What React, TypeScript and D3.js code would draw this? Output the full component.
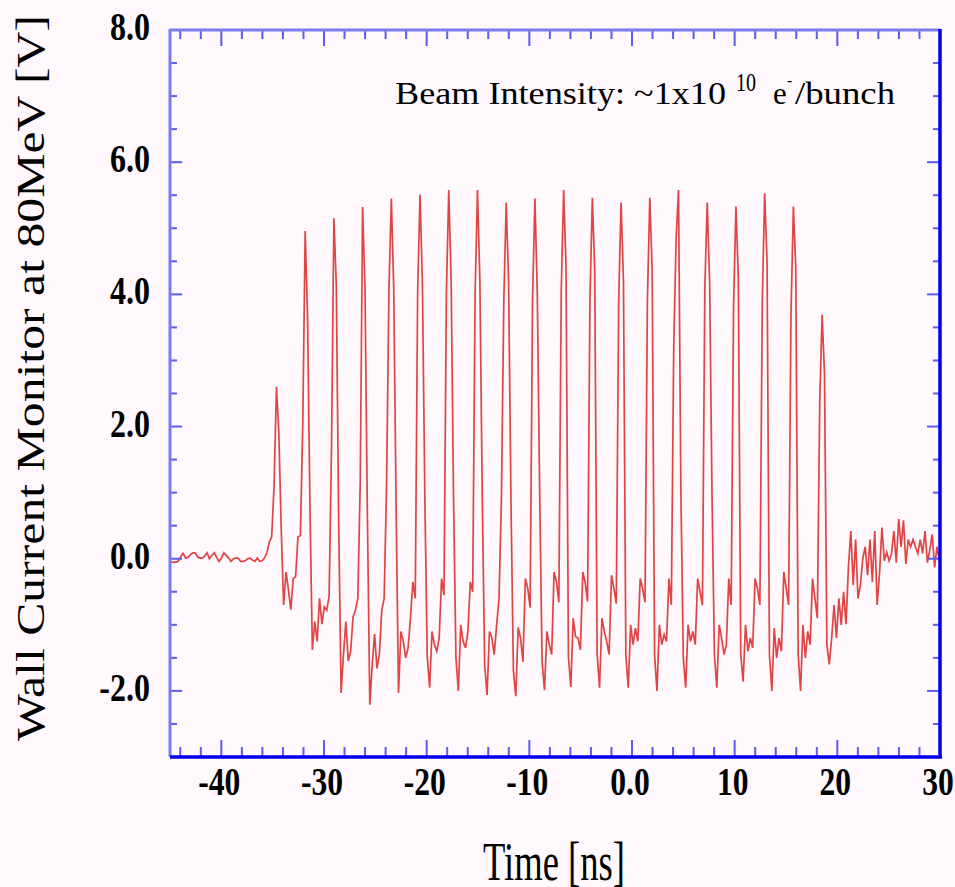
import React from 'react';
import * as d3 from 'd3';

// sampling grid of the digitised waveform (ns)
const T_START = -45.12;
const T_STEP = 0.2331;

// baseline before the beam arrives
const preBeam = [
  -0.05, -0.05, -0.05, -0.05, -0.04, 0.03, 0.08, 0.01, 0.02, 0.06,
  0.09, 0.09, 0.03, 0.01, 0.01, 0.04, 0.09, 0.0, 0.05, 0.09,
  0.02, -0.04, 0.01, 0.09, 0.05, 0.01, -0.04, 0.0, 0.01, 0.01,
  -0.04, -0.04, -0.03, 0.0, 0.01, -0.02, -0.04, 0.01, -0.04, -0.03,
  0.01, 0.09, 0.25, 0.33, 1.1,
];

// each bunch: 12 samples, starting at the peak
const bunch01 = [2.6, 1.9, 0.44, -0.7, -0.2, -0.47, -0.77, -0.3, -0.27, 0.33, 0.35, 2.05];
const bunch02 = [4.96, 3.65, 0.76, -1.38, -0.95, -1.25, -0.6, -0.99, -0.73, -0.78, -0.57, 1.67];
const bunch03 = [5.15, 4.15, 0.58, -2.03, -1.45, -0.95, -1.55, -1.4, -0.88, -0.78, -0.6, 1.15];
const bunch04 = [5.32, 4.07, 0.66, -2.21, -1.61, -1.14, -1.66, -1.45, -0.78, -0.6, 1.1, 4.07];
const bunch05 = [5.45, 4.1, 0.78, -2.03, -1.1, -1.25, -1.5, -1.35, -0.9, -0.35, -0.6, 4.05];
const bunch06 = [5.51, 4.15, 0.94, -1.48, -1.95, -1.1, -1.3, -1.4, -1.2, -0.3, -0.55, 4.0];
const bunch07 = [5.58, 4.2, 0.9, -1.5, -2.0, -1.0, -1.25, -1.35, -1.1, -0.35, -0.5, 4.0];
const bunch08 = [5.58, 4.2, 0.95, -1.6, -2.06, -1.1, -1.2, -1.45, -1.0, -0.6, 0.9, 3.9];
const bunch09 = [5.39, 4.2, 0.86, -1.69, -2.08, -1.04, -1.2, -1.56, -0.3, -0.45, -0.74, 3.9];
const bunch10 = [5.45, 4.0, 0.95, -1.56, -1.99, -1.1, -1.3, -1.45, -0.2, -0.35, -0.66, 4.05];
const bunch11 = [5.58, 4.42, -1.48, -1.94, -0.9, -1.18, -1.2, -1.38, -0.2, -0.36, -0.65, 3.95];
const bunch12 = [5.46, 4.35, -1.45, -1.95, -0.9, -1.1, -1.25, -1.45, -0.25, -0.45, -0.68, 3.9];
const bunch13 = [5.39, 4.2, -1.46, -1.95, -1.0, -1.3, -1.05, -1.25, -0.3, -0.45, -0.66, 3.9];
const bunch14 = [5.46, 4.35, -1.46, -2.0, -1.0, -1.3, -1.15, -1.25, -0.3, -0.7, 3.2, 4.85];
const bunch15 = [5.58, 1.0, -1.5, -1.95, -1.0, -1.25, -1.1, -1.3, -0.3, -0.5, -0.7, 4.1];
const bunch16 = [5.39, 4.2, 0.97, -1.45, -1.95, -1.0, -1.2, -1.45, -1.3, -0.3, -0.7, 3.82];
const bunch17 = [5.33, 4.25, -1.45, -1.86, -1.0, -1.4, -1.2, -1.35, -0.3, -0.45, -0.7, 3.85];
const bunch18 = [5.53, 4.5, -1.45, -2.0, -1.05, -1.5, -1.2, -1.4, -0.2, -0.45, -0.7, 3.7];
const bunch19 = [5.33, 4.4, -1.45, -2.0, -1.0, -1.5, -1.1, -1.3, -0.3, -0.6, -0.9, 2.35];
const bunch20 = [3.69, 2.8, -1.3, -1.6, -1.2, -0.7, -1.2, -0.6, -1.0, -0.5, -0.99, -0.13];

const bunchTrain = [
  bunch01, bunch02, bunch03, bunch04, bunch05, bunch06, bunch07, bunch08, bunch09, bunch10,
  bunch11, bunch12, bunch13, bunch14, bunch15, bunch16, bunch17, bunch18, bunch19, bunch20,
];

// ringing after the train
const postBeam = [
  0.42, -0.4, 0.29, -0.6, -0.4, 0.0, 0.18, -0.25, 0.29, -0.35,
  0.42, -0.7, -0.22, 0.47, -0.03, 0.1, -0.03, 0.08, 0.42, -0.06,
  0.6, 0.18, 0.58, -0.08, 0.29, 0.18, 0.29, 0.18, 0.08, 0.29,
  0.08, 0.42, -0.06, 0.13, 0.37, -0.13, 0.18, -0.03,
];

const xTickValues = [-40, -30, -20, -10, 0, 10, 20, 30];
const xTickLabels = ['-40', '-30', '-20', '-10', '0.0', '10', '20', '30'];
const yTickValues = [8, 6, 4, 2, 0, -2];
const yTickLabels = ['8.0', '6.0', '4.0', '2.0', '0.0', '-2.0'];

export default function App() {
  const W = 955;
  const H = 887;
  const L = 170, R = 940, T = 30, B = 757;
  const x = d3.scaleLinear().domain([-45, 30]).range([L, R]);
  const y = d3.scaleLinear().domain([-3, 8]).range([B, T]);

  const values = [...preBeam, ...bunchTrain.flat(), ...postBeam];
  const pts: [number, number][] = values.map((v, i) => [T_START + i * T_STEP, v]);
  const line = d3
    .line<[number, number]>()
    .x((d) => x(d[0]))
    .y((d) => y(d[1]));

  const xMinor = d3.range(-44, 29, 2);
  const yMinor = d3.range(-2.5, 8, 0.5);

  const font = "'Liberation Serif', 'Times New Roman', serif";
  const tickColor = '#5c5cf2';

  return (
    <svg
      width={W}
      height={H}
      style={{ position: 'absolute', left: 0, top: 0, display: 'block' }}
      fontFamily={font}
    >
      <rect x={0} y={0} width={W} height={H} fill="#fff8fd" />
      <defs>
        <clipPath id="plotClip">
          <rect x={L + 1} y={T} width={R - L - 1} height={B - T} />
        </clipPath>
      </defs>

      {/* trace */}
      <path
        d={line(pts) || ''}
        fill="none"
        stroke="#e04444"
        strokeWidth={1.7}
        clipPath="url(#plotClip)"
      />

      {/* x ticks bottom & top */}
      {xMinor.map((v) => {
        const major = Math.abs(v % 10) < 1e-6;
        const len = major ? 17 : 10;
        const lenTop = major ? 16 : 9;
        return (
          <g key={'xt' + v}>
            <line x1={x(v)} x2={x(v)} y1={B} y2={B - len} stroke={tickColor} strokeWidth={2} />
            <line x1={x(v)} x2={x(v)} y1={T} y2={T + lenTop} stroke={tickColor} strokeWidth={2} />
          </g>
        );
      })}

      {/* y ticks left & right */}
      {yMinor.map((v) => {
        const major = Math.abs(v % 2) < 1e-6;
        const len = major ? 12 : 7;
        return (
          <g key={'yt' + v}>
            <line x1={L} x2={L + len} y1={y(v)} y2={y(v)} stroke={tickColor} strokeWidth={2} />
            <line x1={R} x2={R - (major ? 13 : 7)} y1={y(v)} y2={y(v)} stroke={tickColor} strokeWidth={2} />
          </g>
        );
      })}

      {/* frame */}
      <line x1={L} x2={L} y1={T - 1} y2={B} stroke="#7b7bf2" strokeWidth={3} />
      <line x1={L} x2={R} y1={T} y2={T} stroke="#7b7bf2" strokeWidth={3} />
      <line x1={L} x2={R + 2} y1={B} y2={B} stroke="#0000f0" strokeWidth={3.5} />
      <line x1={R} x2={R} y1={T - 1} y2={B} stroke="#0000f0" strokeWidth={3.5} />

      {/* y tick labels */}
      {yTickValues.map((v, i) => (
        <text
          key={'yl' + v}
          transform={`translate(150,${y(v) + 10}) scale(0.8,1)`}
          textAnchor="end"
          fontSize={40}
          fontWeight="bold"
          fill="#000"
        >
          {yTickLabels[i]}
        </text>
      ))}

      {/* x tick labels */}
      {xTickValues.map((v, i) => (
        <text
          key={'xl' + v}
          transform={`translate(${x(v) - 2},795) scale(0.77,1)`}
          textAnchor="middle"
          fontSize={41}
          fontWeight="bold"
          fill="#000"
        >
          {xTickLabels[i]}
        </text>
      ))}

      {/* axis titles */}
      <text
        x={554}
        y={880}
        textAnchor="middle"
        fontSize={55}
        textLength={142}
        lengthAdjust="spacingAndGlyphs"
        fill="#000"
      >
        Time [ns]
      </text>
      <text
        transform="translate(44,378) rotate(-90)"
        textAnchor="middle"
        fontSize={39}
        textLength={726}
        lengthAdjust="spacingAndGlyphs"
        fill="#000"
      >
        Wall Current Monitor at 80MeV [V]
      </text>

      {/* annotation */}
      <g fill="#000">
        <text x={395} y={104} fontSize={31} textLength={331} lengthAdjust="spacingAndGlyphs">
          Beam Intensity: ~1x10
        </text>
        <text x={736} y={91} fontSize={25} textLength={20} lengthAdjust="spacingAndGlyphs">
          10
        </text>
        <text x={773} y={104} fontSize={31}>
          e
        </text>
        <text x={787} y={86} fontSize={16}>
          -
        </text>
        <text x={795} y={104} fontSize={31} textLength={100} lengthAdjust="spacingAndGlyphs">
          /bunch
        </text>
      </g>
    </svg>
  );
}
